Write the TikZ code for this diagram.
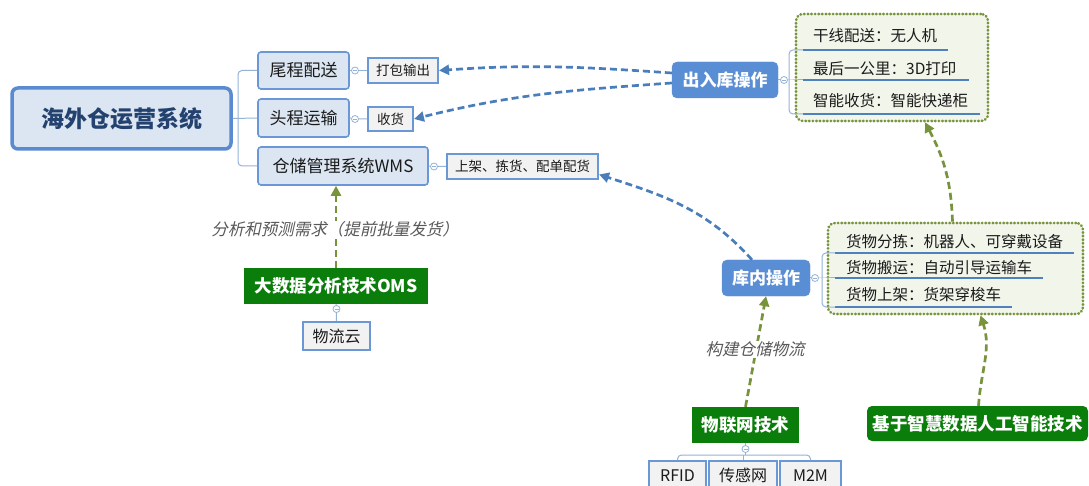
\documentclass[tikz,border=0pt]{standalone}
\usepackage{fontspec}
\setmainfont{Noto Sans CJK SC}
\newfontfamily\slantfont[FakeSlant=0.22]{Noto Sans CJK SC}
\usetikzlibrary{arrows.meta}
\definecolor{lightfill}{HTML}{DCE6F2}
\definecolor{rootblue}{HTML}{5A8AD0}
\definecolor{rootText}{HTML}{24426F}
\definecolor{bblue}{HTML}{6A98D6}
\definecolor{grayfill}{HTML}{F2F2F2}
\definecolor{opblue}{HTML}{5A8ED4}
\definecolor{techgreen}{HTML}{0B7D0B}
\definecolor{ggreen}{HTML}{77933C}
\definecolor{gfill}{HTML}{F1F5EA}
\definecolor{ublue}{HTML}{4F81BD}
\definecolor{treeblue}{HTML}{95B3D7}
\definecolor{dblue}{HTML}{4A7EBB}
\definecolor{labgray}{HTML}{595959}
\definecolor{txt}{HTML}{1A1A1A}
\tikzset{
 base/.style={inner sep=0pt, align=center},
 rootbox/.style={base, draw=rootblue, line width=3.5pt, fill=lightfill, rounded corners=6pt, text=rootText, font=\fontsize{23}{23}\selectfont\bfseries},
 branchbox/.style={base, draw=bblue, line width=1.6pt, fill=lightfill, rounded corners=3pt, font=\fontsize{17}{17}\selectfont, text=txt},
 leafbox/.style={base, draw=bblue, line width=2pt, fill=grayfill, font=\fontsize{13.5}{13.5}\selectfont, text=txt},
 botbox/.style={base, draw=bblue, line width=2pt, fill=grayfill, font=\fontsize{16}{16}\selectfont, text=txt},
 opbox/.style={base, fill=opblue, draw=opblue, rounded corners=5pt, text=white, font=\fontsize{17}{17}\selectfont\bfseries},
 techbox/.style={base, fill=techgreen, text=white, font=\fontsize{17.5}{17.5}\selectfont\bfseries},
 gbox/.style={base, draw=ggreen, fill=gfill, line width=2.6pt, dash pattern=on 0.6pt off 3pt, line cap=round, rounded corners=7pt},
 rowtext/.style={anchor=west, inner sep=0pt, font=\fontsize{15.5}{15.5}\selectfont, text=txt},
 uline/.style={draw=ublue, line width=2pt},
 tree/.style={draw=treeblue, line width=1pt, rounded corners=4pt},
 marker/.style={circle, draw=treeblue, fill=white, minimum size=7pt, inner sep=0pt, line width=0.8pt},
 bluearrow/.style={draw=dblue, line width=2.7pt, dash pattern=on 7pt off 4pt, -{Triangle[length=10pt,width=10pt]}},
 greenarrow/.style={draw=ggreen, line width=2.7pt, dash pattern=on 7pt off 4pt, -{Triangle[length=10pt,width=10pt]}},
 itlabel/.style={fill=white, inner sep=1pt, text=labgray, font=\slantfont\fontsize{16.5}{16.5}\selectfont},
}
\begin{document}
\begin{tikzpicture}[x=1pt,y=-1pt]
\useasboundingbox[fill=white] (0,0) rectangle (1089,486);

% green dotted containers
\node[gbox, minimum width=192pt, minimum height=107pt] (g1) at (892,67.5) {};
\node[gbox, minimum width=255pt, minimum height=91pt] (g2) at (955.5,268.5) {};

% main nodes
\node[rootbox, minimum width=219pt, minimum height=61pt] (root) at (121.5,118.5) {海外仓运营系统};
\node[branchbox, minimum width=91pt, minimum height=37pt] (wei) at (303.5,70.5) {尾程配送};
\node[branchbox, minimum width=91pt, minimum height=38pt] (tou) at (303.5,118) {头程运输};
\node[branchbox, minimum width=170pt, minimum height=38pt] (wms) at (343,166) {仓储管理系统WMS};
\node[leafbox, minimum width=70pt, minimum height=25pt] (dabao) at (403,70.5) {打包输出};
\node[leafbox, minimum width=45pt, minimum height=24pt] (shouhuo) at (390.5,119) {收货};
\node[leafbox, minimum width=151pt, minimum height=25pt] (shangjia) at (522.5,166.5) {上架、拣货、配单配货};

\node[opbox, minimum width=106pt, minimum height=36pt] (crk) at (725,80) {出入库操作};
\node[opbox, minimum width=88pt, minimum height=36pt] (knc) at (766,278) {库内操作};

\node[techbox, minimum width=184pt, minimum height=36pt] (oms) at (336,286) {大数据分析技术OMS};
\node[botbox, minimum width=67pt, minimum height=28pt] (wly) at (336.5,336) {物流云};
\node[techbox, minimum width=107pt, minimum height=36pt] (wlw) at (745.5,425) {物联网技术};
\node[botbox, minimum width=57pt, minimum height=29pt] (rfid) at (677.5,475.5) {RFID};
\node[botbox, minimum width=68pt, minimum height=29pt] (cgw) at (743,475.5) {传感网};
\node[botbox, minimum width=61pt, minimum height=29pt] (m2m) at (810.5,475.5) {M2M};
\node[techbox, rounded corners=5pt, minimum width=221pt, minimum height=35pt] (jy) at (977.5,423.5) {基于智慧数据人工智能技术};

% rows in containers
\node[rowtext] (r11) at (813,36) {干线配送：无人机};
\node[rowtext] (r12) at (813,68.5) {最后一公里：3D打印};
\node[rowtext] (r13) at (813,100.5) {智能收货：智能快递柜};
\node[rowtext] (r21) at (846,242) {货物分拣：机器人、可穿戴设备};
\node[rowtext] (r22) at (846,268) {货物搬运：自动引导运输车};
\node[rowtext] (r23) at (846,294.5) {货物上架：货架穿梭车};

% underlines
\coordinate (u1s) at (803,50);  \coordinate (u1e) at (948,50);
\coordinate (u2s) at (803,80);  \coordinate (u2e) at (969,80);
\coordinate (u3s) at (803,114); \coordinate (u3e) at (980,114);
\coordinate (v1s) at (835,253); \coordinate (v1e) at (1074,253);
\coordinate (v2s) at (835,278); \coordinate (v2e) at (1043,278);
\coordinate (v3s) at (835,307); \coordinate (v3e) at (1012,307);
\draw[uline] (u1s) -- (u1e);
\draw[uline] (u2s) -- (u2e);
\draw[uline] (u3s) -- (u3e);
\draw[uline] (v1s) -- (v1e);
\draw[uline] (v2s) -- (v2e);
\draw[uline] (v3s) -- (v3e);

% tree lines
\coordinate (tj) at (238,118);
\draw[tree] (root.east) -- (tou.west);
\draw[tree] (wei.west) -| (tj) |- (wms.west);
\node[marker] (m1) at (355,70.5) {};
\node[marker] (m2) at (355,119) {};
\node[marker] (m3) at (434,166.5) {};
\draw[tree] (wei.east) -- (m1) -- (dabao.west);
\draw[tree] (tou.east) -- (m2) -- (shouhuo.west);
\draw[tree] (wms.east) -- (m3) -- (shangjia.west);

\coordinate (b1) at (789,80);
\draw[tree] (u1s) -| (b1) |- (u3s);
\draw[tree] (crk.east) -- (b1) -- (u2s);
\node[marker] (m4) at (784,80) {};

\coordinate (b2) at (822,278);
\draw[tree] (v1s) -| (b2) |- (v3s);
\draw[tree] (knc.east) -- (b2) -- (v2s);
\node[marker] (m5) at (815,278) {};

\coordinate (hb) at (745.5,455);
\draw[tree] (rfid.north) |- (hb) -| (m2m.north);
\draw[tree] (cgw.north) -- (cgw.north |- hb);
\draw[tree] (wlw.south) -- (hb);
\node[marker] (m6) at (745.5,449) {};

\draw[tree] (oms.south) -- (wly.north);
\node[marker] (m7) at (336.5,309) {};

\foreach \m in {m1,m2,m3,m4,m5,m6,m7}
  \draw[treeblue, line width=0.6pt] ([xshift=-2pt]\m.center) -- ([xshift=2pt]\m.center);

% dashed relations (angles are page angles, y up)
\draw[bluearrow] ([yshift=7pt]crk.west) to[out=176,in=4] (dabao.east);
\draw[bluearrow] ([yshift=-3pt]crk.west) to[out=184,in=14] (shouhuo.east);
\draw[bluearrow] ([xshift=-14pt]knc.north) to[out=132,in=-18] ([yshift=-8pt]shangjia.east);

\draw[greenarrow] (oms.north) -- (oms.north |- wms.south);
\draw[greenarrow] (wlw.north) -- (knc.south);
\draw[greenarrow] ([xshift=1pt]jy.north) to[out=86,in=-72] ([xshift=25pt]g2.south);
\draw[greenarrow] ([xshift=-3pt]g2.north) to[out=92,in=-62] ([xshift=33pt]g1.south);

% italic labels
\node[itlabel] (lab1) at (335,229.5) {分析和预测需求（提前批量发货）};
\node[itlabel] (lab2) at (755,349.5) {构建仓储物流};
\end{tikzpicture}
\end{document}
